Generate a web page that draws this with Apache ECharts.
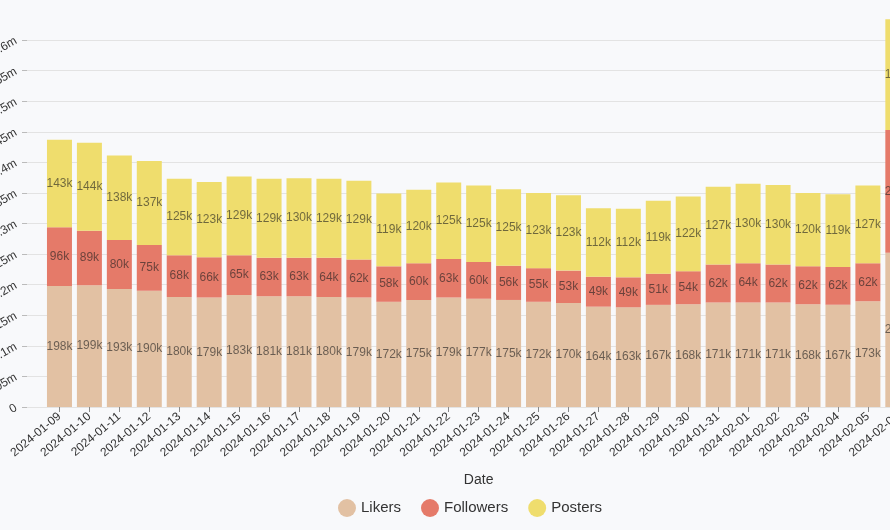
<!DOCTYPE html>
<html><head><meta charset="utf-8">
<script src="https://cdn.jsdelivr.net/npm/echarts@6/dist/echarts.min.js"></script>
<style>
html,body{margin:0;padding:0;overflow:hidden;background:#f8f9fb;width:890px;height:530px}
#c{width:940px;height:530px}
</style>
</head><body><div id="c"></div>
<script>
const dates = ['2024-01-09','2024-01-10','2024-01-11','2024-01-12','2024-01-13','2024-01-14','2024-01-15','2024-01-16','2024-01-17','2024-01-18','2024-01-19','2024-01-20','2024-01-21','2024-01-22','2024-01-23','2024-01-24','2024-01-25','2024-01-26','2024-01-27','2024-01-28','2024-01-29','2024-01-30','2024-01-31','2024-02-01','2024-02-02','2024-02-03','2024-02-04','2024-02-05','2024-02-06'];
const likers = [198,199,193,190,180,179,183,181,181,180,179,172,175,179,177,175,172,170,164,163,167,168,171,171,171,168,167,173,252].map(v=>v*1000);
const followers = [96,89,80,75,68,66,65,63,63,64,62,58,60,63,60,56,55,53,49,49,51,54,62,64,62,62,62,62,201].map(v=>v*1000);
const posters = [143,144,138,137,125,123,129,129,130,129,129,119,120,125,125,125,123,123,112,112,119,122,127,130,130,120,119,127,181].map(v=>v*1000);
const seriesNames = ['Likers','Followers','Posters'];
const colors = ['#e2c1a3','#e57a69','#efdd6d'];

const chart = echarts.init(document.getElementById('c'), null, {renderer:'canvas'});
const font = 'Liberation Sans, Arial, sans-serif';
const lbl = {show:true, position:'inside', fontSize:12, fontFamily:font, color:'rgba(30,30,30,0.62)',
  formatter:p=>Math.round(p.value/1000)+'k'};
const mk = (name,data,i)=>({name, type:'bar', stack:'s', data, xAxisIndex:0, yAxisIndex:0,
  barWidth:25, clip:false, itemStyle:{color:colors[i]}, label:lbl, emphasis:{disabled:true}});

chart.setOption({
  backgroundColor:'#f8f9fb',
  animation:false,
  color:colors,
  textStyle:{fontFamily:font},
  legend:{data:seriesNames, left:'center', top:494, icon:'circle', itemWidth:18, itemHeight:18, itemGap:20,
    textStyle:{fontSize:15, color:'#333', fontFamily:font}},
  grid:[
    {left:44.5, right:27.2, top:40, bottom:123, outerBoundsMode:'none', containLabel:false},
    {left:27, right:27.2, top:40, bottom:123, outerBoundsMode:'none', containLabel:false}
  ],
  xAxis:[
    {type:'category', gridIndex:0, data:dates, name:'Date', nameLocation:'middle', nameGap:66,
      nameTextStyle:{fontSize:14, color:'#333', fontFamily:font},
      axisLine:{show:false}, axisTick:{show:true, alignWithLabel:true, length:5, lineStyle:{color:'#8a8a8a'}},
      axisLabel:{rotate:40, fontSize:12, color:'#333', margin:8, fontFamily:font}},
    {type:'category', gridIndex:1, data:dates, show:true, axisLine:{show:true, lineStyle:{color:'#e3e3e3'}},
      axisTick:{show:false}, axisLabel:{show:false}}
  ],
  yAxis:[
    {type:'value', gridIndex:0, min:0, max:600000, interval:50000, show:false},
    {type:'value', gridIndex:1, min:0, max:600000, interval:50000,
      axisLine:{show:false}, axisTick:{show:true, length:5, lineStyle:{color:'#bbb'}},
      splitLine:{show:true, lineStyle:{color:'#e3e3e3'}},
      axisLabel:{rotate:30, fontSize:12, color:'#333', margin:11, fontFamily:font,
        formatter:v=>v===0?'0':parseFloat((v/1e6).toFixed(2))+'m'}}
  ],
  series:[
    mk('Likers',likers,0),
    mk('Followers',followers,1),
    mk('Posters',posters,2)
  ]
});
</script></body></html>
